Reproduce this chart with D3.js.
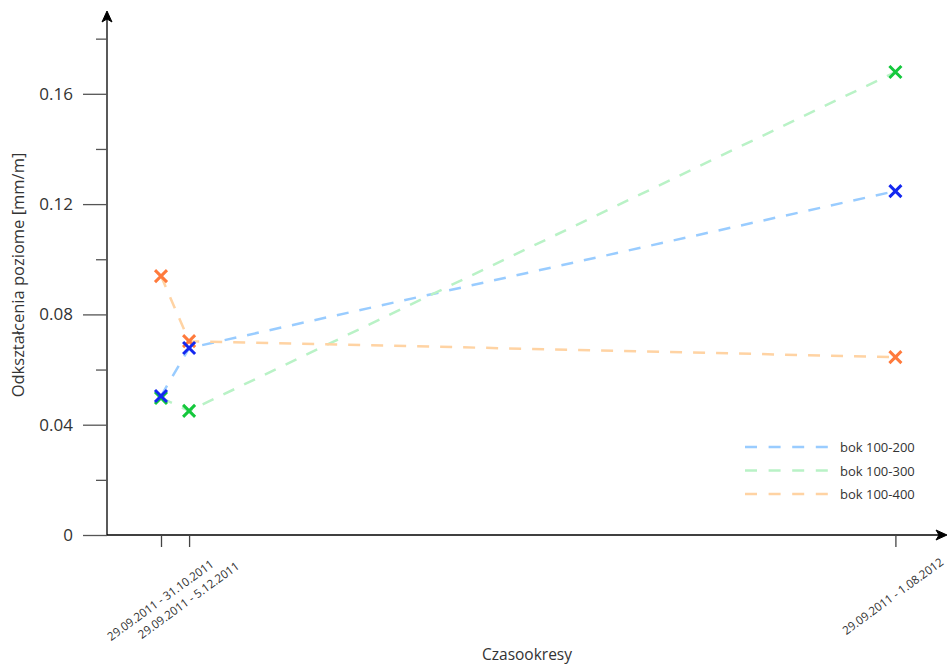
<!DOCTYPE html>
<html><head><meta charset="utf-8">
<script src="https://cdn.jsdelivr.net/npm/d3@7"></script>
<style>body{margin:0;background:#fff}svg{display:block;font-family:"Open Sans",sans-serif}</style>
</head><body><svg id="c" width="948" height="665"></svg>
<script>
const categories = ["29.09.2011 - 31.10.2011", "29.09.2011 - 5.12.2011", "29.09.2011 - 1.08.2012"];
const xPositions = [1, 1.52, 14.6];
const seriesNames = ["bok 100-200", "bok 100-300", "bok 100-400"];
const s200 = [0.0504, 0.0678, 0.1247];
const s300 = [0.0497, 0.0450, 0.1679];
const s400 = [0.0939, 0.0703, 0.0645];
const majorTicks = [0, 0.04, 0.08, 0.12, 0.16];
const minorTicks = [0.02, 0.06, 0.10, 0.14, 0.18];
const tickLabels = ["0", "0.04", "0.08", "0.12", "0.16"];
const lineColors = ["#99ccff", "#b9f2c6", "#ffd3a3"];
const markColors = ["#1428f0", "#14c83c", "#ff7a3c"];

const svg = d3.select("#c");
const x0 = 107, y0 = 535;
const x = d3.scaleLinear().domain([0, 15.6]).range([x0, x0 + 54 * 15.6]);
const y = d3.scaleLinear().domain([0, 0.18]).range([y0, y0 - 0.18 / 0.04 * 110.3]);

// axes
const g = svg.append("g");
g.append("line").attr("x1", x0).attr("x2", x0).attr("y1", y0).attr("y2", 14).attr("stroke", "#000").attr("stroke-width", 1.3);
g.append("line").attr("x1", x0).attr("x2", 945).attr("y1", y0).attr("y2", y0).attr("stroke", "#000").attr("stroke-width", 1.3);
g.append("path").attr("d", `M${x0},11 L${x0-5},22 L${x0},19 L${x0+5},22 Z`).attr("fill", "#000").attr("stroke", "#000").attr("stroke-width", 1).attr("stroke-linejoin", "round");
g.append("path").attr("d", `M947,${y0} L936,${y0-5} L939,${y0} L936,${y0+5} Z`).attr("fill", "#000").attr("stroke", "#000").attr("stroke-width", 1).attr("stroke-linejoin", "round");

const yAxisMajor = d3.axisLeft(y).tickValues(majorTicks).tickSize(24).tickPadding(10).tickFormat((d, i) => tickLabels[i]);
const ya = svg.append("g").attr("transform", `translate(${x0},0)`).call(yAxisMajor);
ya.select(".domain").remove();
ya.selectAll("line").attr("stroke", "#555").attr("stroke-width", 1.3);
ya.selectAll("text").attr("font-size", 17).attr("fill", "#333").attr("font-family", "Open Sans");
const yAxisMinor = d3.axisLeft(y).tickValues(minorTicks).tickSize(11).tickFormat("");
const ym = svg.append("g").attr("transform", `translate(${x0},0)`).call(yAxisMinor);
ym.select(".domain").remove();
ym.selectAll("line").attr("stroke", "#555").attr("stroke-width", 1.3);

const xAxis = d3.axisBottom(x).tickValues(xPositions).tickSize(12).tickFormat("");
const xa = svg.append("g").attr("transform", `translate(0,${y0})`).call(xAxis);
xa.select(".domain").remove();
xa.selectAll("line").attr("stroke", "#444").attr("stroke-width", 1.3);
svg.append("g").selectAll("text").data(categories).join("text")
  .attr("transform", (d, i) => `translate(${x(xPositions[i]) - (i === 2 ? 2 : 0)},${i === 2 ? 597 : 601}) rotate(-36)`)
  .attr("text-anchor", "middle").attr("dominant-baseline", "middle")
  .attr("font-size", 11.6).attr("fill", "#333").text(d => d);

// titles
svg.append("text").attr("transform", "translate(24,275) rotate(-90)").attr("text-anchor", "middle")
  .attr("font-size", 16.5).attr("fill", "#333").text("Odkształcenia poziome [mm/m]");
svg.append("text").attr("x", 527).attr("y", 660).attr("text-anchor", "middle")
  .attr("font-size", 15.5).attr("fill", "#333").text("Czasookresy");

// series
const allSeries = [s200, s300, s400];
const line = d3.line().x((d, i) => x(xPositions[i])).y(d => y(d));
allSeries.forEach((s, k) => {
  svg.append("path").attr("d", line(s)).attr("fill", "none").attr("stroke", lineColors[k])
    .attr("stroke-width", 2.5).attr("stroke-dasharray", "12,11");
});
const r = 6;
[2, 1, 0].forEach(k => {
  const s = allSeries[k];
  svg.append("g").selectAll("path").data(s).join("path")
    .attr("d", (d, i) => { const cx = x(xPositions[i]), cy = y(d);
      return `M${cx-r},${cy-r}L${cx+r},${cy+r}M${cx-r},${cy+r}L${cx+r},${cy-r}`; })
    .attr("stroke", markColors[k]).attr("stroke-width", 3).attr("fill", "none");
});

// legend
const lg = svg.append("g");
seriesNames.forEach((n, k) => {
  const ly = 447 + k * 23.5;
  lg.append("line").attr("x1", 745).attr("x2", 828).attr("y1", ly).attr("y2", ly)
    .attr("stroke", lineColors[k]).attr("stroke-width", 2.5).attr("stroke-dasharray", "12,11.6");
  lg.append("text").attr("x", 840).attr("y", ly + 5).attr("font-size", 13).attr("fill", "#333").text(n);
});
</script></body></html>
